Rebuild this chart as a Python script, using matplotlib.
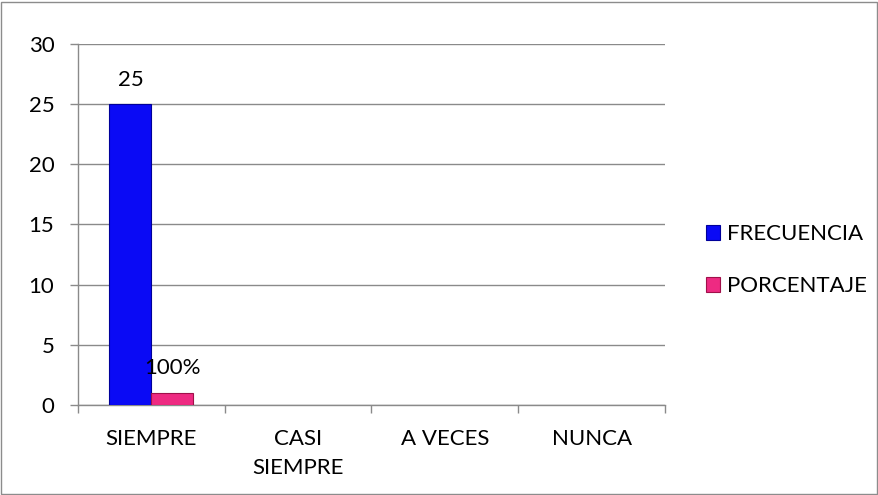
import matplotlib
matplotlib.use("Agg")
import matplotlib.pyplot as plt
import numpy as np
from matplotlib.patches import Rectangle

categories = ["SIEMPRE", "CASI\nSIEMPRE", "A VECES", "NUNCA"]
frecuencia = [25, 0, 0, 0]
porcentaje = [1, 0, 0, 0]
porcentaje_labels = ["100%", "", "", ""]
yticks = [0, 5, 10, 15, 20, 25, 30]

plt.rcParams['font.family'] = ['Lato', 'DejaVu Sans']
FS = 16

W, H = 879, 495
fig = plt.figure(figsize=(W / 100, H / 100), dpi=100)
fig.patches.append(Rectangle((1 / W, 1 / H), 1 - 3 / W, 1 - 3 / H, transform=fig.transFigure,
                             fill=False, edgecolor="#8c8c8c", linewidth=1))

ax = fig.add_axes([78 / W, 90 / H, 587 / W, 361 / H])
x = np.arange(len(categories))
bw = 0.286
blue, blue_edge = "#0a0af5", "#00009a"
pink, pink_edge = "#ee2a82", "#a0104a"

ax.bar(x - bw / 2, frecuencia, bw, color=blue,
       edgecolor=[blue_edge if v else "none" for v in frecuencia], linewidth=0.8,
       label="FRECUENCIA", zorder=3)
ax.bar(x + bw / 2, porcentaje, bw, color=pink,
       edgecolor=[pink_edge if v else "none" for v in porcentaje], linewidth=0.8,
       label="PORCENTAJE", zorder=3)

for i, v in enumerate(frecuencia):
    if v:
        ax.text(x[i] - bw / 2, v + 2.0, str(v), ha="center", va="center", fontsize=FS, zorder=4)
for i, v in enumerate(porcentaje):
    if porcentaje_labels[i]:
        ax.text(x[i] + bw / 2, v + 2.1, porcentaje_labels[i], ha="center", va="center",
                fontsize=FS, zorder=4)

ax.set_xlim(-0.5, len(categories) - 0.5)
ax.set_ylim(0, 30)
ax.set_yticks(yticks)
ax.set_yticklabels([str(t) for t in yticks], fontsize=FS)
ax.yaxis.grid(True, color="#8a8a8a", linewidth=1, zorder=0)
ax.set_xticks(np.arange(-0.5, len(categories)), minor=False)
ax.set_xticklabels([])
ax.set_xticks(x, minor=True)
ax.set_xticklabels(categories, minor=True, fontsize=FS, linespacing=1.6, va="top")
ax.tick_params(axis="x", which="minor", length=0, pad=17)
ax.tick_params(axis="x", which="major", length=6, color="#8a8a8a", width=1)
ax.tick_params(axis="y", length=6, color="#8a8a8a", width=1, pad=11)

for s in ["top", "right"]:
    ax.spines[s].set_visible(False)
for s in ["left", "bottom"]:
    ax.spines[s].set_color("#8a8a8a")
    ax.spines[s].set_linewidth(1)

leg = fig.legend(loc="center left", bbox_to_anchor=(686 / W, 1 - 260 / H), frameon=False,
                 fontsize=FS, handlelength=0.65, handleheight=0.65, handletextpad=0.3,
                 labelspacing=1.45)

fig.savefig("out.png", dpi=100)
